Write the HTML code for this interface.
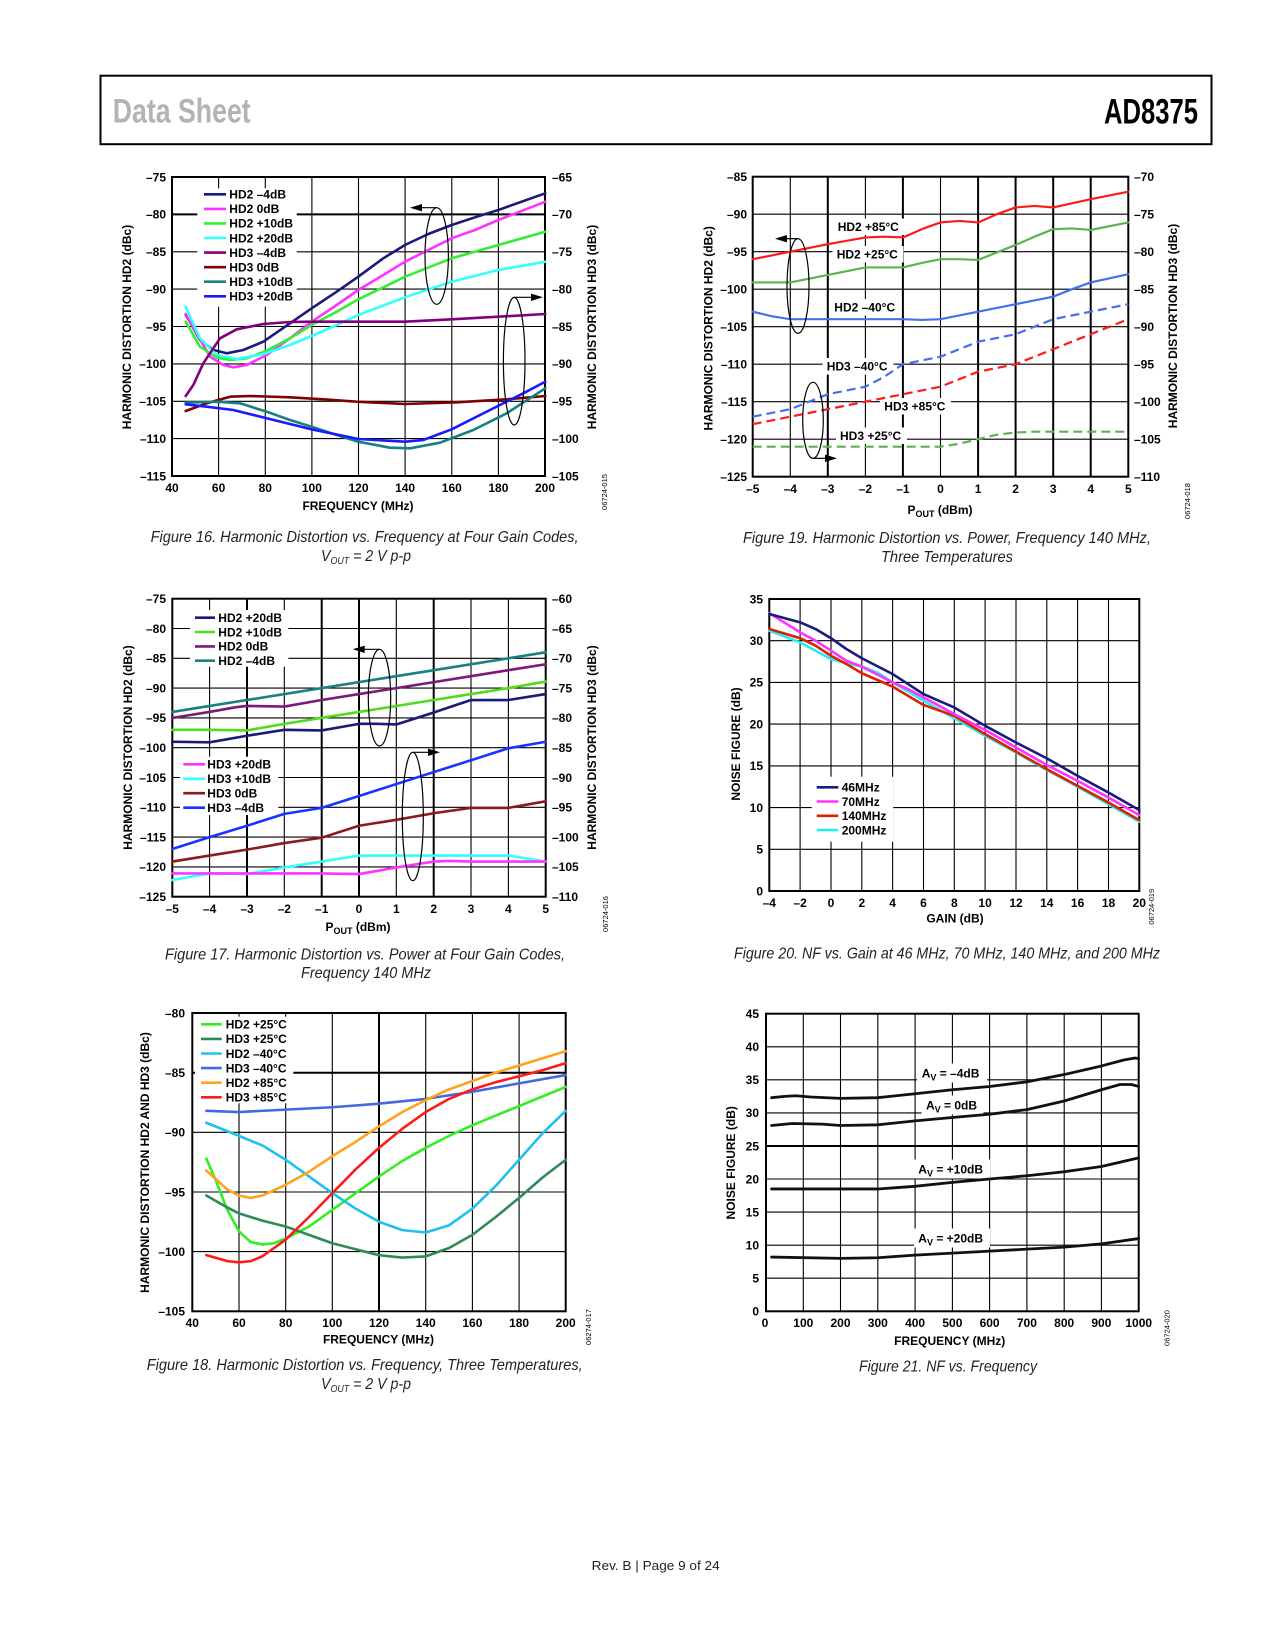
<!DOCTYPE html>
<html><head><meta charset="utf-8"><title>AD8375 Data Sheet</title><style>
html,body{margin:0;padding:0;background:#fff}
svg{display:block}
text{font-family:"Liberation Sans",Arial,sans-serif}
.t{font-size:12px;font-weight:bold;fill:#000}
.c{fill:none;stroke-linejoin:round;stroke-linecap:round;vector-effect:non-scaling-stroke}
.g{stroke:#000;stroke-width:1.1;fill:none}
.gt{stroke:#000;stroke-width:2;fill:none}
.cap{font-size:16px;font-style:italic;fill:#231f20}
.id{font-size:7.5px;fill:#000}
.el{fill:none;stroke:#000;stroke-width:1.2}
</style></head><body>
<svg xmlns="http://www.w3.org/2000/svg" width="1275" height="1650" viewBox="0 0 1275 1650">
<rect x="0" y="0" width="1275" height="1650" fill="#fff"/>

<!-- HEADER -->
<rect x="100.5" y="75.7" width="1111" height="68.5" fill="none" stroke="#000" stroke-width="2"/>
<text x="112.7" y="122.7" font-size="34" font-weight="bold" fill="#b3b3b3" textLength="138" lengthAdjust="spacingAndGlyphs">Data Sheet</text>
<text x="1104" y="123.3" font-size="35" font-weight="bold" fill="#000" textLength="94" lengthAdjust="spacingAndGlyphs">AD8375</text>

<!-- ================= FIG 16 ================= -->
<path class="g" d="M218.6 177V476M265.3 177V476M311.9 177V476M358.5 177V476M405.1 177V476M451.8 177V476M498.4 177V476M172 251.8H545M172 289.1H545M172 326.5H545M172 363.9H545M172 401.3H545M172 438.6H545"/>
<path class="gt" d="M172 214.4H545"/>
<rect x="197.3" y="188.3" width="99.4" height="118.4" fill="#fff"/>
<rect x="172" y="177" width="373" height="299" class="gt"/>
<g class="c" stroke-width="2.6">
<polyline stroke="#1a1a7c" points="185.7,315 190,322 200,340 213.3,350 226.7,353.3 243.3,350 263.3,341.7 290,323.3 311.7,308.3 336.7,291.7 358.3,276.7 383.3,258.3 405,245 428.3,234 451.7,225 475,217.3 498.3,210 545.3,193.3"/>
<polyline stroke="#ff33ff" points="185.7,314 196.7,333.3 210,356.7 223.3,365 233.3,367.3 246.7,365 266.7,355 290,338.3 311.7,321.7 336.7,305 358.3,290 383.3,275 405,261.7 428.3,250 451.7,238.3 475,230 498.3,220 545.3,201.7"/>
<polyline stroke="#33ee33" points="185.7,321.7 200,346.7 216.7,357.7 230,360 246.7,358.3 266.7,350.7 290,338.3 311.7,325 336.7,311.7 358.3,299.3 383.3,287.3 405,276.7 451.7,258.3 498.3,245 545.3,231.7"/>
<polyline stroke="#33ffff" points="185.7,306.7 190,316.7 200,338.3 216.7,355 236.7,359 263.3,354 290,345 311.7,336 336.7,325 358.3,315 405,297.3 451.7,281.7 498.3,270 545.3,261.7"/>
<polyline stroke="#800080" points="185.7,396 193.3,385 203.3,363.3 220,338.3 236.7,329.3 263.3,324 290,322 311.7,321.7 405,321.7 451.7,319.3 498.3,316.7 545.3,314"/>
<polyline stroke="#800000" points="185.7,411 206.7,403.3 230,396.7 250,396 290,397.3 323.3,399.3 356.7,401.7 405,404 456.7,402.3 506.7,399.3 545.3,396"/>
<polyline stroke="#178080" points="185.7,402.7 216.7,401.7 240,403.3 266.7,411.7 290,420 311.7,426.7 336.7,435 358.3,441.7 390,447.7 410,448.3 440,442.7 473.3,430 506.7,413.3 545.3,388.3"/>
<polyline stroke="#1a1aff" points="185.7,404.3 206.7,406.7 233.3,410 266.7,418.3 290,424 311.7,429.3 358.3,439 405,441.7 423.3,440 451.7,429.3 490,410 523.3,393.3 545.3,381.7"/>
</g>
<g stroke-width="2.6">
<path stroke="#1a1a7c" d="M204 194.3H226"/>
<path stroke="#ff33ff" d="M204 208.9H226"/>
<path stroke="#33ee33" d="M204 223.4H226"/>
<path stroke="#33ffff" d="M204 238H226"/>
<path stroke="#800080" d="M204 252.6H226"/>
<path stroke="#800000" d="M204 267.2H226"/>
<path stroke="#178080" d="M204 281.7H226"/>
<path stroke="#1a1aff" d="M204 296.3H226"/>
</g>
<g class="t">
<text x="229.3" y="198.6">HD2 –4dB</text>
<text x="229.3" y="213.2">HD2 0dB</text>
<text x="229.3" y="227.7">HD2 +10dB</text>
<text x="229.3" y="242.3">HD2 +20dB</text>
<text x="229.3" y="256.9">HD3 –4dB</text>
<text x="229.3" y="271.5">HD3 0dB</text>
<text x="229.3" y="286">HD3 +10dB</text>
<text x="229.3" y="300.6">HD3 +20dB</text>
</g>
<ellipse class="el" cx="436.7" cy="256" rx="11.7" ry="48.3"/>
<path stroke="#000" stroke-width="1.2" d="M436.7 207.7H420"/>
<polygon points="410,207.7 422,204 422,211.4" fill="#000"/>
<ellipse class="el" cx="514.2" cy="361.2" rx="10.8" ry="63.8"/>
<path stroke="#000" stroke-width="1.2" d="M514.2 297.3H531"/>
<polygon points="543,297.3 531,293.6 531,301" fill="#000"/>
<g class="t" text-anchor="end">
<text x="166" y="181.3">–75</text><text x="166" y="218.7">–80</text><text x="166" y="256.1">–85</text><text x="166" y="293.4">–90</text><text x="166" y="330.8">–95</text><text x="166" y="368.2">–100</text><text x="166" y="405.6">–105</text><text x="166" y="442.9">–110</text><text x="166" y="480.3">–115</text>
</g>
<g class="t">
<text x="552" y="181.3">–65</text><text x="552" y="218.7">–70</text><text x="552" y="256.1">–75</text><text x="552" y="293.4">–80</text><text x="552" y="330.8">–85</text><text x="552" y="368.2">–90</text><text x="552" y="405.6">–95</text><text x="552" y="442.9">–100</text><text x="552" y="480.3">–105</text>
</g>
<g class="t" text-anchor="middle">
<text x="172" y="492">40</text><text x="218.6" y="492">60</text><text x="265.3" y="492">80</text><text x="311.9" y="492">100</text><text x="358.5" y="492">120</text><text x="405.1" y="492">140</text><text x="451.8" y="492">160</text><text x="498.4" y="492">180</text><text x="545" y="492">200</text>
<text x="358" y="510">FREQUENCY (MHz)</text>
<text transform="translate(131,327) rotate(-90)">HARMONIC DISTORTION HD2 (dBc)</text>
<text transform="translate(596,327) rotate(-90)">HARMONIC DISTORTION HD3 (dBc)</text>
</g>
<text class="id" text-anchor="middle" transform="translate(607,492) rotate(-90)">06724-015</text>
<text class="cap" x="150.6" y="542" textLength="428" lengthAdjust="spacingAndGlyphs">Figure 16. Harmonic Distortion vs. Frequency at Four Gain Codes,</text>
<text class="cap" x="321" y="561" textLength="90" lengthAdjust="spacingAndGlyphs">V<tspan font-size="10" dy="3">OUT</tspan><tspan dy="-3"> = 2 V p-p</tspan></text>

<!-- ================= FIG 17 ================= -->
<path class="g" d="M209.6 598.7V896.7M284.3 598.7V896.7M396.3 598.7V896.7M471 598.7V896.7M508.4 598.7V896.7M172.3 628.5H545.7M172.3 658.3H545.7M172.3 688.1H545.7M172.3 717.9H545.7M172.3 747.7H545.7M172.3 777.5H545.7M172.3 807.3H545.7M172.3 837.1H545.7M172.3 866.9H545.7"/>
<path class="gt" d="M247 598.7V896.7M321.7 598.7V896.7M359 598.7V896.7M433.7 598.7V896.7"/>
<rect x="190" y="610" width="98.3" height="56.7" fill="#fff"/>
<rect x="180" y="756.7" width="98.3" height="58.3" fill="#fff"/>
<rect x="172.3" y="598.7" width="373.4" height="298" class="gt"/>
<g transform="matrix(37.34 0 0 -5.96 359 151.7)">
<polyline class="c" stroke-width="2.6" stroke="#1a8080" points="-5,-94 5,-84"/>
<polyline class="c" stroke-width="2.6" stroke="#7b1a7b" points="-5,-95 -4,-94 -3.3,-93.2 -3,-93 -2,-93.1 -1,-92 0,-91 1,-90 2,-89 3,-88 4,-87 5,-86"/>
<polyline class="c" stroke-width="2.6" stroke="#4ddd1a" points="-5,-97 -4,-97 -3,-97.1 -2,-96 -1,-95 0,-94 1,-93 2,-92 3,-91 4,-90 5,-88.9"/>
<polyline class="c" stroke-width="2.6" stroke="#1a1a7a" points="-5,-99 -4,-99.1 -3,-98 -2,-97 -1,-97.1 0,-96 0.5,-96 1,-96.1 2,-94.1 3,-92 4,-92 5,-91"/>
<polyline class="c" stroke-width="2.6" stroke="#1a33ff" points="-5,-117 -4,-115 -3,-113.1 -2,-111.1 -1,-110.1 0,-108.1 1,-106.1 2,-104.1 3,-102.1 4,-100.1 5,-99"/>
<polyline class="c" stroke-width="2.6" stroke="#8b1a1a" points="-5,-119.1 -4,-118.1 -3,-117.1 -2,-116 -1,-115.1 0,-113.1 1,-112.1 2,-111 3,-110.1 4,-110.1 5,-109"/>
<polyline class="c" stroke-width="2.6" stroke="#33ffff" points="-5,-122.2 -4,-121.1 -3,-121.2 -2,-120.1 -1,-119.1 0,-118.1 1,-118.1 2,-118.1 3,-118.1 4,-118.1 5,-119.1"/>
<polyline class="c" stroke-width="2.6" stroke="#ff33ff" points="-5,-121.1 -4,-121.1 -3,-121.1 -2,-121.1 -1,-121.1 0,-121.2 1,-120.1 2,-119.1 2.4,-119 3,-119.1 4,-119.1 5,-119.1"/>
</g>
<g stroke-width="2.6">
<path stroke="#1a1a7a" d="M195 617.7H215"/>
<path stroke="#4ddd1a" d="M195 632H215"/>
<path stroke="#7b1a7b" d="M195 646.4H215"/>
<path stroke="#1a8080" d="M195 660.7H215"/>
<path stroke="#ff33ff" d="M183.3 764.3H205"/>
<path stroke="#33ffff" d="M183.3 778.8H205"/>
<path stroke="#8b1a1a" d="M183.3 793.2H205"/>
<path stroke="#1a33ff" d="M183.3 807.7H205"/>
</g>
<g class="t">
<text x="218.3" y="622">HD2 +20dB</text>
<text x="218.3" y="636.3">HD2 +10dB</text>
<text x="218.3" y="650.7">HD2 0dB</text>
<text x="218.3" y="665">HD2 –4dB</text>
<text x="207.3" y="768.6">HD3 +20dB</text>
<text x="207.3" y="783.1">HD3 +10dB</text>
<text x="207.3" y="797.5">HD3 0dB</text>
<text x="207.3" y="812">HD3 –4dB</text>
</g>
<ellipse class="el" cx="379.5" cy="697.7" rx="11.2" ry="48.3"/>
<path stroke="#000" stroke-width="1.2" d="M379.5 649.3H363"/>
<polygon points="352.7,649.3 364.7,645.6 364.7,653" fill="#000"/>
<ellipse class="el" cx="412.8" cy="816.5" rx="10.5" ry="64.2"/>
<path stroke="#000" stroke-width="1.2" d="M412.8 752.3H429"/>
<polygon points="440,752.3 428,748.6 428,756" fill="#000"/>
<g class="t" text-anchor="end">
<text x="166" y="603">–75</text><text x="166" y="632.8">–80</text><text x="166" y="662.6">–85</text><text x="166" y="692.4">–90</text><text x="166" y="722.2">–95</text><text x="166" y="752">–100</text><text x="166" y="781.8">–105</text><text x="166" y="811.6">–110</text><text x="166" y="841.4">–115</text><text x="166" y="871.2">–120</text><text x="166" y="901">–125</text>
</g>
<g class="t">
<text x="552" y="603">–60</text><text x="552" y="632.8">–65</text><text x="552" y="662.6">–70</text><text x="552" y="692.4">–75</text><text x="552" y="722.2">–80</text><text x="552" y="752">–85</text><text x="552" y="781.8">–90</text><text x="552" y="811.6">–95</text><text x="552" y="841.4">–100</text><text x="552" y="871.2">–105</text><text x="552" y="901">–110</text>
</g>
<g class="t" text-anchor="middle">
<text x="172.3" y="913">–5</text><text x="209.6" y="913">–4</text><text x="247" y="913">–3</text><text x="284.3" y="913">–2</text><text x="321.7" y="913">–1</text><text x="359" y="913">0</text><text x="396.3" y="913">1</text><text x="433.7" y="913">2</text><text x="471" y="913">3</text><text x="508.4" y="913">4</text><text x="545.7" y="913">5</text>
<text x="358" y="931">P<tspan font-size="9" dy="3">OUT</tspan><tspan dy="-3"> (dBm)</tspan></text>
<text transform="translate(132,747.5) rotate(-90)">HARMONIC DISTORTION HD2 (dBc)</text>
<text transform="translate(596,747.5) rotate(-90)">HARMONIC DISTORTION HD3 (dBc)</text>
</g>
<text class="id" text-anchor="middle" transform="translate(608,914) rotate(-90)">06724-016</text>
<text class="cap" x="165" y="959.3" textLength="400" lengthAdjust="spacingAndGlyphs">Figure 17. Harmonic Distortion vs. Power at Four Gain Codes,</text>
<text class="cap" x="301" y="978" textLength="130" lengthAdjust="spacingAndGlyphs">Frequency 140 MHz</text>

<!-- ================= FIG 18 ================= -->
<path class="g" d="M239 1013V1311.3M285.7 1013V1311.3M332.3 1013V1311.3M425.7 1013V1311.3M472.4 1013V1311.3M519.1 1013V1311.3M192.3 1132.3H565.7M192.3 1192H565.7M192.3 1251.6H565.7"/>
<path class="gt" d="M379 1013V1311.3M192.3 1072.7H565.7"/>
<rect x="195" y="1016.7" width="98.3" height="86.6" fill="#fff"/>
<rect x="192.3" y="1013" width="373.4" height="298.3" class="gt"/>
<g transform="matrix(2.334 0 0 -11.93 98.94 58.6)">
<polyline class="c" stroke-width="2.6" stroke="#33ee22" points="46,-92.2 50,-94 55,-96.5 60,-98.3 65,-99.2 70,-99.4 75,-99.3 80,-98.9 90,-97.9 100,-96.5 110,-95.1 120,-93.7 130,-92.4 140,-91.3 150,-90.3 160,-89.4 170,-88.6 180,-87.8 190,-87 200,-86.2"/>
<polyline class="c" stroke-width="2.6" stroke="#2e8b57" points="46,-95.3 55,-96.3 60,-96.8 70,-97.4 80,-97.9 90,-98.6 100,-99.3 110,-99.8 120,-100.3 130,-100.5 140,-100.4 150,-99.7 160,-98.6 170,-97.1 180,-95.5 190,-93.8 200,-92.3"/>
<polyline class="c" stroke-width="2.6" stroke="#1ec0f0" points="46,-89.2 60,-90.3 70,-91.1 80,-92.3 90,-93.7 100,-95.1 110,-96.4 120,-97.5 130,-98.2 140,-98.4 150,-97.8 160,-96.4 170,-94.5 180,-92.3 190,-90.1 200,-88.2"/>
<polyline class="c" stroke-width="2.6" stroke="#4169e1" points="46,-88.2 60,-88.3 80,-88.1 100,-87.9 120,-87.6 140,-87.2 160,-86.6 180,-85.9 200,-85.2"/>
<polyline class="c" stroke-width="2.6" stroke="#ffa31a" points="46,-93.2 55,-94.8 60,-95.3 65,-95.5 70,-95.3 80,-94.4 90,-93.3 100,-92 110,-90.8 120,-89.5 130,-88.3 140,-87.3 150,-86.4 160,-85.7 170,-85 180,-84.4 190,-83.8 200,-83.2"/>
<polyline class="c" stroke-width="2.6" stroke="#ff1a1a" points="46,-100.3 55,-100.8 60,-100.9 65,-100.8 70,-100.4 80,-99 90,-97.1 100,-95.1 110,-93.1 120,-91.3 130,-89.7 140,-88.3 150,-87.2 160,-86.4 170,-85.8 180,-85.3 190,-84.8 200,-84.2"/>
</g>
<g stroke-width="2.6">
<path stroke="#33ee22" d="M201 1024.3H221.7"/>
<path stroke="#2e8b57" d="M201 1038.9H221.7"/>
<path stroke="#1ec0f0" d="M201 1053.5H221.7"/>
<path stroke="#4169e1" d="M201 1068.1H221.7"/>
<path stroke="#ffa31a" d="M201 1082.7H221.7"/>
<path stroke="#ff1a1a" d="M201 1097.3H221.7"/>
</g>
<g class="t">
<text x="225.7" y="1028.6">HD2 +25°C</text>
<text x="225.7" y="1043.2">HD3 +25°C</text>
<text x="225.7" y="1057.8">HD2 –40°C</text>
<text x="225.7" y="1072.4">HD3 –40°C</text>
<text x="225.7" y="1087">HD2 +85°C</text>
<text x="225.7" y="1101.6">HD3 +85°C</text>
</g>
<g class="t" text-anchor="end">
<text x="185" y="1017.3">–80</text><text x="185" y="1077">–85</text><text x="185" y="1136.6">–90</text><text x="185" y="1196.3">–95</text><text x="185" y="1255.9">–100</text><text x="185" y="1315.6">–105</text>
</g>
<g class="t" text-anchor="middle">
<text x="192.3" y="1327">40</text><text x="239" y="1327">60</text><text x="285.7" y="1327">80</text><text x="332.3" y="1327">100</text><text x="379" y="1327">120</text><text x="425.7" y="1327">140</text><text x="472.4" y="1327">160</text><text x="519.1" y="1327">180</text><text x="565.7" y="1327">200</text>
<text x="378.5" y="1343.3">FREQUENCY (MHz)</text>
<text transform="translate(149,1162.5) rotate(-90)">HARMONIC DISTORTION HD2 AND HD3 (dBc)</text>
</g>
<text class="id" text-anchor="middle" transform="translate(591,1327) rotate(-90)">06274-017</text>
<text class="cap" x="146.7" y="1370" textLength="436" lengthAdjust="spacingAndGlyphs">Figure 18. Harmonic Distortion vs. Frequency, Three Temperatures,</text>
<text class="cap" x="321" y="1389" textLength="90" lengthAdjust="spacingAndGlyphs">V<tspan font-size="10" dy="3">OUT</tspan><tspan dy="-3"> = 2 V p-p</tspan></text>

<!-- ================= FIG 19 ================= -->
<path class="g" stroke-width="1.3" d="M790.3 176.7V476.7M865.4 176.7V476.7M940.5 176.7V476.7M752.7 214.2H1128.3M752.7 251.7H1128.3M752.7 289.2H1128.3M752.7 326.7H1128.3M752.7 364.2H1128.3M752.7 401.7H1128.3M752.7 439.2H1128.3"/>
<path class="gt" d="M827.8 176.7V476.7M902.9 176.7V476.7M978.1 176.7V476.7M1015.6 176.7V476.7M1053.2 176.7V476.7M1090.7 176.7V476.7"/>
<g fill="#fff">
<rect x="833.5" y="218.5" width="71" height="16.5"/>
<rect x="832.5" y="246" width="71" height="16.5"/>
<rect x="830" y="299" width="71" height="16.5"/>
<rect x="822.5" y="358" width="71" height="16.5"/>
<rect x="880" y="398" width="71" height="16.5"/>
<rect x="836" y="427.5" width="71" height="16.5"/>
</g>
<rect x="752.7" y="176.7" width="375.6" height="300" class="gt"/>
<g transform="matrix(37.56 0 0 -7.5 940.5 -460.8)">
<polyline class="c" stroke-width="2.2" stroke="#ff1a1a" points="-5,-96 -4,-95 -3,-94 -2,-93.1 -1.5,-93 -1,-93.1 -0.5,-92 0,-91.1 0.5,-90.9 1,-91.1 1.5,-90 2,-89.1 2.5,-88.9 3,-89.1 4,-88 5,-87"/>
<polyline class="c" stroke-width="2.2" stroke="#5ab34f" points="-5,-99.1 -4,-99.1 -3,-98.1 -2,-97.1 -1,-97.1 -0.5,-96.5 0,-96 0.5,-96 1,-96.1 2,-94.1 2.5,-93 3,-92 3.5,-91.9 4,-92.1 5,-91.1"/>
<polyline class="c" stroke-width="2.2" stroke="#4470f0" points="-5,-103 -4.5,-103.6 -4,-104 -3,-104 -1,-104 -0.5,-104.1 0,-104 1,-103 2,-102 3,-101 3.5,-100 4,-99.1 5,-98"/>
</g>
<g fill="none" stroke-width="2.2" stroke-dasharray="9 5">
<polyline stroke="#4470f0" points="752.7,416.7 790.3,409.2 827.8,394.2 865.4,386.7 884,377 902.9,364.2 940.5,356.7 978.1,341.7 1015.6,334.2 1053.2,319.2 1090.7,311.7 1128.3,304.2"/>
<polyline stroke="#ff1a1a" points="752.7,424.2 790.3,416.7 827.8,409.2 865.4,401.7 902.9,394.2 940.5,386.7 978.1,371.7 1015.6,364.2 1053.2,349.2 1090.7,334.2 1128.3,319.2"/>
<polyline stroke="#5ab34f" points="752.7,446.7 940.5,446.7 959.3,443.7 978.1,439.2 996.8,434.7 1015.6,432.5 1034.4,431.7 1128.3,431.7"/>
</g>
<g class="t">
<text x="837.7" y="231">HD2 +85°C</text>
<text x="836.7" y="258.6">HD2 +25°C</text>
<text x="834.3" y="311.6">HD2 –40°C</text>
<text x="826.7" y="370.3">HD3 –40°C</text>
<text x="884.3" y="410.3">HD3 +85°C</text>
<text x="840" y="440">HD3 +25°C</text>
</g>
<ellipse class="el" cx="798" cy="286" rx="11" ry="47.3"/>
<path stroke="#000" stroke-width="1.2" d="M798 238.7H786"/>
<polygon points="775,238.7 787,235 787,242.4" fill="#000"/>
<ellipse class="el" cx="813" cy="420.3" rx="10.3" ry="38"/>
<path stroke="#000" stroke-width="1.2" d="M813 458.3H826"/>
<polygon points="837,458.3 825,454.6 825,462" fill="#000"/>
<g class="t" text-anchor="end">
<text x="747" y="181">–85</text><text x="747" y="218.5">–90</text><text x="747" y="256">–95</text><text x="747" y="293.5">–100</text><text x="747" y="331">–105</text><text x="747" y="368.5">–110</text><text x="747" y="406">–115</text><text x="747" y="443.5">–120</text><text x="747" y="481">–125</text>
</g>
<g class="t">
<text x="1134" y="181">–70</text><text x="1134" y="218.5">–75</text><text x="1134" y="256">–80</text><text x="1134" y="293.5">–85</text><text x="1134" y="331">–90</text><text x="1134" y="368.5">–95</text><text x="1134" y="406">–100</text><text x="1134" y="443.5">–105</text><text x="1134" y="481">–110</text>
</g>
<g class="t" text-anchor="middle">
<text x="752.7" y="493">–5</text><text x="790.3" y="493">–4</text><text x="827.8" y="493">–3</text><text x="865.4" y="493">–2</text><text x="902.9" y="493">–1</text><text x="940.5" y="493">0</text><text x="978.1" y="493">1</text><text x="1015.6" y="493">2</text><text x="1053.2" y="493">3</text><text x="1090.7" y="493">4</text><text x="1128.3" y="493">5</text>
<text x="940" y="514">P<tspan font-size="9" dy="3">OUT</tspan><tspan dy="-3"> (dBm)</tspan></text>
<text transform="translate(712.5,328.3) rotate(-90)">HARMONIC DISTORTION HD2 (dBc)</text>
<text transform="translate(1177,326) rotate(-90)">HARMONIC DISTORTION HD3 (dBc)</text>
</g>
<text class="id" text-anchor="middle" transform="translate(1190,501) rotate(-90)">06724-018</text>
<text class="cap" x="743" y="543" textLength="408" lengthAdjust="spacingAndGlyphs">Figure 19. Harmonic Distortion vs. Power, Frequency 140 MHz,</text>
<text class="cap" x="881" y="562" textLength="132" lengthAdjust="spacingAndGlyphs">Three Temperatures</text>

<!-- ================= FIG 20 ================= -->
<path class="g" d="M800.1 599V891M831 599V891M861.8 599V891M892.6 599V891M923.5 599V891M954.3 599V891M985.1 599V891M1016 599V891M1046.8 599V891M1077.6 599V891M1108.5 599V891M769.3 640.7H1139.3M769.3 682.4H1139.3M769.3 724.1H1139.3M769.3 765.9H1139.3M769.3 807.6H1139.3M769.3 849.3H1139.3"/>
<rect x="811.7" y="776.7" width="81.6" height="65" fill="#fff"/>
<rect x="769.3" y="599" width="370" height="292" class="gt"/>
<g transform="matrix(15.417 0 0 -8.343 831 891)">
<polyline class="c" stroke-width="2.6" stroke="#22f0f0" points="-4,31.2 -2,29.8 -1,28.8 0,27.8 1,27.3 2,26.9 3,26.2 4,25 6,22.8 8,20.7 10,18.6 12,16.6 14,14.5 16,12.5 18,10.4 20,8.3"/>
<polyline class="c" stroke-width="2.6" stroke="#dd2200" points="-4,31.4 -2,30.3 -1,29.4 0,28.2 1,27.2 2,26.1 4,24.5 6,22.3 8,21 10,18.8 12,16.7 14,14.6 16,12.6 18,10.6 20,8.5"/>
<polyline class="c" stroke-width="2.6" stroke="#ff33ff" points="-4,33.3 -2,31 -1,30 0,28.8 1,27.6 2,26.9 4,25 5,24.2 6,23.2 8,21.2 10,19.3 12,17.2 14,15.1 16,13.2 18,11.2 20,9.1"/>
<polyline class="c" stroke-width="2.6" stroke="#1a1a80" points="-4,33.2 -2,32.2 -1,31.4 0,30.3 1,29 2,27.9 4,26 5,24.8 6,23.6 7,22.8 8,22 10,19.8 12,17.8 14,15.9 16,13.8 18,11.8 20,9.7"/>
</g>
<g stroke-width="2.6">
<path stroke="#1a1a80" d="M816.7 787.3H838.3"/>
<path stroke="#ff33ff" d="M816.7 801.5H838.3"/>
<path stroke="#dd2200" d="M816.7 815.8H838.3"/>
<path stroke="#22f0f0" d="M816.7 830H838.3"/>
</g>
<g class="t">
<text x="841.7" y="791.6">46MHz</text>
<text x="841.7" y="805.8">70MHz</text>
<text x="841.7" y="820.1">140MHz</text>
<text x="841.7" y="834.3">200MHz</text>
</g>
<g class="t" text-anchor="end">
<text x="763" y="603.3">35</text><text x="763" y="645">30</text><text x="763" y="686.7">25</text><text x="763" y="728.4">20</text><text x="763" y="770.2">15</text><text x="763" y="811.9">10</text><text x="763" y="853.6">5</text><text x="763" y="895.3">0</text>
</g>
<g class="t" text-anchor="middle">
<text x="769.3" y="907">–4</text><text x="800.1" y="907">–2</text><text x="831" y="907">0</text><text x="861.8" y="907">2</text><text x="892.6" y="907">4</text><text x="923.5" y="907">6</text><text x="954.3" y="907">8</text><text x="985.1" y="907">10</text><text x="1016" y="907">12</text><text x="1046.8" y="907">14</text><text x="1077.6" y="907">16</text><text x="1108.5" y="907">18</text><text x="1139.3" y="907">20</text>
<text x="955" y="922.7">GAIN (dB)</text>
<text transform="translate(740,744) rotate(-90)">NOISE FIGURE (dB)</text>
</g>
<text class="id" text-anchor="middle" transform="translate(1154,906.7) rotate(-90)">06724-019</text>
<text class="cap" x="734" y="958.5" textLength="426" lengthAdjust="spacingAndGlyphs">Figure 20. NF vs. Gain at 46 MHz, 70 MHz, 140 MHz, and 200 MHz</text>

<!-- ================= FIG 21 ================= -->
<path class="g" d="M803.3 1013.7V1311.3M840.5 1013.7V1311.3M877.8 1013.7V1311.3M915.1 1013.7V1311.3M952.4 1013.7V1311.3M989.6 1013.7V1311.3M1026.9 1013.7V1311.3M1064.2 1013.7V1311.3M1101.4 1013.7V1311.3M766 1046.8H1138.7M766 1079.8H1138.7M766 1112.9H1138.7M766 1179H1138.7M766 1212.1H1138.7M766 1245.2H1138.7M766 1278.2H1138.7"/>
<path class="gt" d="M766 1146H1138.7"/>
<g fill="#fff">
<rect x="917" y="1063.5" width="70" height="19"/>
<rect x="921.5" y="1095.5" width="62" height="19"/>
<rect x="914" y="1159.5" width="76" height="19"/>
<rect x="914" y="1228.5" width="76" height="19"/>
</g>
<rect x="766" y="1013.7" width="372.7" height="297.6" class="gt"/>
<g transform="matrix(0.3727 0 0 -6.613 766 1311.3)" stroke="#111">
<polyline class="c" stroke-width="2.8" points="15,32.3 50,32.5 80,32.6 120,32.4 200,32.2 300,32.3 400,32.9 500,33.5 600,34 700,34.7 800,35.8 900,37.1 960,38 990,38.3 1000,38.2"/>
<polyline class="c" stroke-width="2.8" points="15,28.1 70,28.4 150,28.3 200,28.1 300,28.2 400,28.8 500,29.3 600,29.8 700,30.5 800,31.8 900,33.5 950,34.3 980,34.3 1000,34"/>
<polyline class="c" stroke-width="2.8" points="15,18.5 100,18.5 300,18.5 400,18.9 500,19.5 600,20 700,20.5 800,21.1 900,21.9 1000,23.2"/>
<polyline class="c" stroke-width="2.8" points="15,8.2 200,8 300,8.1 400,8.5 500,8.8 600,9.1 700,9.4 800,9.7 900,10.2 1000,11"/>
</g>
<g class="t">
<text x="921.7" y="1077.5">A<tspan font-size="9" dy="3">V</tspan><tspan dy="-3"> = –4dB</tspan></text>
<text x="926" y="1109.3">A<tspan font-size="9" dy="3">V</tspan><tspan dy="-3"> = 0dB</tspan></text>
<text x="918.3" y="1173.3">A<tspan font-size="9" dy="3">V</tspan><tspan dy="-3"> = +10dB</tspan></text>
<text x="918.3" y="1242.6">A<tspan font-size="9" dy="3">V</tspan><tspan dy="-3"> = +20dB</tspan></text>
</g>
<g class="t" text-anchor="end">
<text x="759" y="1018">45</text><text x="759" y="1051.1">40</text><text x="759" y="1084.1">35</text><text x="759" y="1117.2">30</text><text x="759" y="1150.3">25</text><text x="759" y="1183.3">20</text><text x="759" y="1216.4">15</text><text x="759" y="1249.5">10</text><text x="759" y="1282.5">5</text><text x="759" y="1315.6">0</text>
</g>
<g class="t" text-anchor="middle">
<text x="765" y="1327">0</text><text x="803.3" y="1327">100</text><text x="840.5" y="1327">200</text><text x="877.8" y="1327">300</text><text x="915.1" y="1327">400</text><text x="952.4" y="1327">500</text><text x="989.6" y="1327">600</text><text x="1026.9" y="1327">700</text><text x="1064.2" y="1327">800</text><text x="1101.4" y="1327">900</text><text x="1138.7" y="1327">1000</text>
<text x="949.7" y="1345">FREQUENCY (MHz)</text>
<text transform="translate(735,1162.8) rotate(-90)">NOISE FIGURE (dB)</text>
</g>
<text class="id" text-anchor="middle" transform="translate(1169.5,1328) rotate(-90)">06724-020</text>
<text class="cap" x="859" y="1371.7" textLength="178" lengthAdjust="spacingAndGlyphs">Figure 21. NF vs. Frequency</text>

<!-- FOOTER -->
<text x="591.7" y="1570" font-size="13" fill="#231f20" textLength="128" lengthAdjust="spacingAndGlyphs">Rev. B | Page 9 of 24</text>
</svg>
</body></html>
